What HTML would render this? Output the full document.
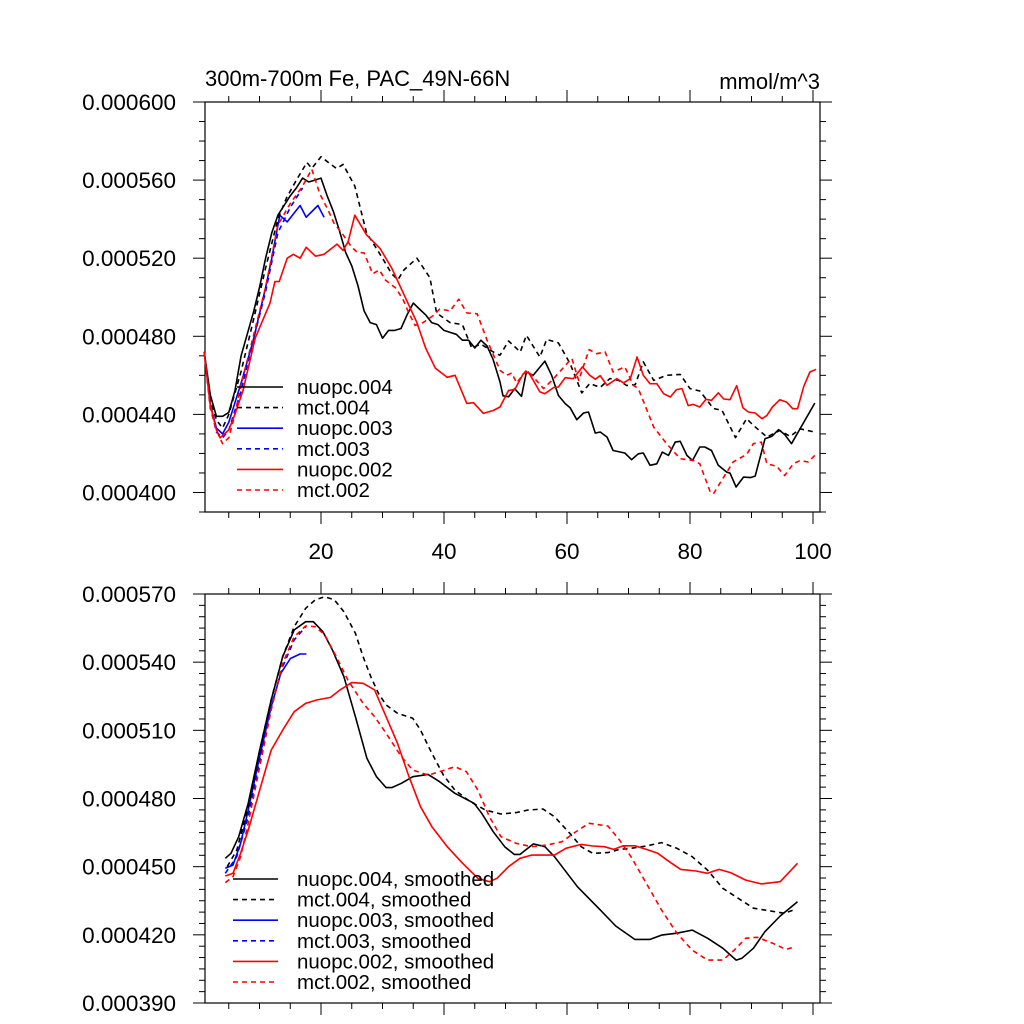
<!DOCTYPE html>
<html><head><meta charset="utf-8"><style>
html,body{margin:0;padding:0;background:#fff;}
svg{display:block;font-family:"Liberation Sans",sans-serif;}
</style></head><body>
<svg id="chart" width="1024" height="1024" viewBox="0 0 1024 1024" xmlns="http://www.w3.org/2000/svg">
<rect width="1024" height="1024" fill="#fff"/>
<text x="205" y="86" font-size="22">300m-700m Fe, PAC_49N-66N</text>
<text x="820" y="89" font-size="22" text-anchor="end">mmol/m^3</text>
<g id="top"></g><g id="bot"></g>
</svg>
<script>
// ---------- top panel data (raw) ----------
const topNames = ["nuopc.004","mct.004","nuopc.003","mct.003","nuopc.002","mct.002"];
const topYTicks = [0.0004,0.00044,0.00048,0.00052,0.00056,0.0006];
const topYLabels = ["0.000400","0.000440","0.000480","0.000520","0.000560","0.000600"];
const xTickVals = [20,40,60,80,100];
const xTickLabels = ["20","40","60","80","100"];

const t_nuopc004_x = [1,2,3,4,5,6,7,8,9,10,11,12,13,14,15,16,17,18,19,20,21,22,23,24,25,26,27,28,29,30,31,32,33,34,35,36,37,38,39,40,41,42,43,44,45,46,47,48,49.1,49.6,50.5,51.5,52.6,53.4,54.5,56.4,57.5,58.6,59.7,60.5,61.6,62.7,63.5,64.6,65.4,66.5,67.5,69.4,70.5,71.6,72.4,73.5,74.6,75.5,76.5,77.6,78.4,79.5,80.4,81.6,82.4,83.5,84.6,86,86.5,87.5,88.7,89.8,90.6,92.2,93.3,94.4,95.4,96.5,100.3];
const t_nuopc004_y = [472,450,439,439,441,452,470,481,492,505,520,533,542,547,552,556,561,559,560,561,552,544,534,523,516,506,493,487,486,479,483,483,484,491,497,494,491,487,486,483,482,481,478,478,474,478,475,468,456.6,449.5,449,453.2,449.2,461.7,460,467.3,460,449.7,445.5,443.4,437.3,440.7,441.2,430.4,431,428.4,421.5,420.2,416.8,419.8,420.2,413.9,414.7,420.7,419,425.8,426.2,419,416.4,423.3,423.3,421.5,413.9,410.4,409.9,402.8,407.9,407.6,408.4,427.5,428.7,432.2,429.7,425,445.8];

const t_mct004_x = [1,2,3,4,5,7,9,11,13,14.4,16,17.7,18.5,20,21.2,22.5,23.6,25.5,27.4,29,30,31.5,32.5,33.5,35.6,37.7,38.8,41,43,44.5,46,48.5,49.1,50.5,52.4,53.4,55.6,56.7,58.6,60.5,62.4,63.7,65.4,67,68.4,69.7,71.1,72.4,74.1,76.2,78.4,80,81.6,83.8,85.2,87.4,89.2,90.3,92.5,94.6,96.3,97.9,100.3];
const t_mct004_y = [472,448,437,433,440,462,488,515,540,551,560,569,566,572,569,566,568,557,533,525,520,512,509,514,520,510,492,487,486,474,476,471,470.3,477.6,472,480.5,469.4,478.4,476.6,466,451,455.8,453.8,458.4,457.4,454.8,455.3,466.9,457.4,460,460.5,453.2,452,443,442.1,428.1,437.8,434.4,428.4,431.8,428.7,432.6,430.9];

const t_nuopc003_x = [1,2,3,4,5,7,9,11,12,13.3,14.5,16.6,17.6,19.5,20.5];
const t_nuopc003_y = [472,445,433,430,436,456,478,505,520,542,538.6,547,541,547,541];

const t_mct003_x = [1,2,3,4,5,7,9,11,13,15,17];
const t_mct003_y = [472,444,431,428,432,452,478,503,533,546,556];

const t_nuopc002_x = [1,2,3,3.6,5,6,7.3,9.3,11.7,12.5,13.2,14.5,15.5,16.6,17.6,19.1,20.5,22.6,23.6,24.4,25.5,27.4,29.6,31.5,33.4,35.6,37,38.6,40.5,41.8,43.7,44.8,46.4,48,49.1,50.5,51.5,52.9,53.7,54.5,55.6,56.4,57.8,58.6,59.7,61,62.5,63.7,64.6,65.4,66.5,68.1,69.2,70.3,71.4,72.4,73.5,74.6,75.7,76.8,77.8,78.7,79.7,80.5,81.6,82.6,83.5,84.6,85.5,86.5,87.6,88.6,89.5,90.6,91.7,92.5,93.4,94.6,95.7,96.7,97.5,98.5,99.5,100.5];
const t_nuopc002_y = [472,445,432,428,432,440,452,479,497,508,508,520,522,520,525.6,521,522,527.2,524,528.4,542,532,525,515,502,487,474,463.6,459,460,445.6,446,440.5,442,443.8,452.3,452.7,460.9,461.7,457.5,451.5,450.6,453.7,454,458.8,458.3,464.3,460,458,459.8,454.9,458.3,456.1,458.3,469.4,460,455.7,455.7,450.6,448.9,452.7,453.2,444.5,445.1,443.8,447.7,447.2,451,447.9,447.5,454.7,443.4,441.2,440.7,437.8,439.5,443.8,447.5,446.3,442.9,442.9,454.4,461.7,463.1];

const t_mct002_x = [1,2,3,4,5,6,7,9,11,13,15,17,18.5,19.8,21.1,22.1,23.6,25,25.9,27,28.4,29.5,30.5,32.2,33.4,34.2,35.3,36.6,38.3,39.3,41,42.4,43.7,45.4,47,49.1,50.2,51,51.8,53.4,54.3,56.2,57.8,60,60.8,61.9,63.6,64.8,66.2,67.5,69.4,70.8,71.6,73,74.1,76.2,78.4,80.6,81.6,83.3,83.8,87,89.2,90.3,91.6,92.5,94.1,95.4,96.8,97.9,99.2,100.3];
const t_mct002_y = [472,443,432,425,428,440,455,480,505,537,548,557,565.6,553,545,538,532,525.6,523,522.7,512,514,508.7,504.6,498.5,492.5,485.6,487,490.7,494,493,499,492,491.5,478,462.6,460,461.2,456.1,462.6,460,453.2,458.3,466,468.6,457.4,473.2,471.1,472,461.7,464.3,454.9,453.2,442.1,433.5,425,417.3,416.4,414.7,400.2,399.3,415.6,419.5,425,425.8,414.7,413.4,408.7,414.7,416.4,415.6,419];

// ---------- bottom panel data (smoothed) ----------
const botNames = ["nuopc.004, smoothed","mct.004, smoothed","nuopc.003, smoothed","mct.003, smoothed","nuopc.002, smoothed","mct.002, smoothed"];
const botYTicks = [0.00039,0.00042,0.00045,0.00048,0.00051,0.00054,0.00057];
const botYLabels = ["0.000390","0.000420","0.000450","0.000480","0.000510","0.000540","0.000570"];

const b_nuopc004_x = [4.44,5.37,6.62,8.17,10.04,11.91,13.77,15.64,17.51,18.75,20.31,21.86,23.73,25.6,27.47,29.02,30.58,31.51,33.07,34.93,37.42,39.29,41.78,44.89,46.13,48,49.87,51.42,52.36,54.54,56.4,57.96,61.69,65.43,67.92,71.03,73.52,75.38,77.87,80.36,82.85,85.34,87.52,88.45,90.32,92.18,94.67,97.48];
const b_nuopc004_y = [453.7,455.9,463.2,477.9,501.3,523.4,542.4,554.2,557.8,557.8,553.4,545.4,533.6,516,497.7,489.6,484.8,484.8,486.7,489.6,490.6,487.4,482.3,477.9,473.5,465.4,458.8,455.4,455.4,460,458.8,454.4,441.2,430.9,423.9,418,418,419.9,420.7,422.1,418.5,414.1,408.9,409.7,414.1,421.4,428.3,434.6];

const b_mct004_x = [4.75,6.31,8.17,10.04,11.91,13.77,15.64,17.51,19.06,20.62,22.18,23.73,25.6,26.84,28.09,29.33,30.58,32.44,34.93,36.18,38.04,39.91,41.78,44.27,46.76,49.25,51.73,53.6,56.09,57.96,60.45,62.31,64.18,66.67,68.54,70.4,72.89,75.38,77.87,80.36,82.85,85.34,87.83,90.32,92.8,95.29,96.85];
const b_mct004_y = [450,457.3,476.4,501.3,523.4,542.4,555.6,563.7,567.4,568.8,567.4,562.2,552.7,542.4,533.6,526.3,521.2,517.5,515.3,510.1,499.9,490.3,483.7,478.6,474.9,473.2,473.8,474.9,475.4,472,464.7,458.8,455.9,456.2,457.6,458.1,459.1,460.6,458.1,454.4,448.5,440.5,436.1,431.7,430.6,429.5,430.9];

const b_nuopc003_x = [4.44,5.69,6.93,8.17,10.04,11.91,13.46,15.02,16.58,17.63];
const b_nuopc003_y = [449.3,450.7,460.3,474.9,498.4,520.4,535.1,541.6,543.6,543.6];

const b_mct003_x = [4.44,6.31,8.17,10.04,11.91,13.77,15.64,17.51];
const b_mct003_y = [447.1,454.4,472,496.9,520.4,538,549.8,555.6];

const b_nuopc002_x = [4.44,5.69,6.93,8.17,10.04,11.91,13.77,15.64,17.51,19.38,21.55,23.11,24.98,26.84,28.71,30.58,32.44,34.31,36.18,38.04,40.53,43.02,45.51,47.38,48.62,50.49,52.36,54.22,56.09,57.96,59.82,62.31,64.18,66.05,67.6,69.16,71.03,72.89,74.76,76.63,78.49,80.98,82.85,84.72,86.58,89.07,91.56,94.67,97.48];
const b_nuopc002_y = [445.9,447.1,455.9,466.1,483.7,501.3,510.1,518.2,521.9,523.4,524.5,527.8,531,530.7,527.8,516,504.3,489.6,476.4,467.6,458.8,451.5,444.9,443.4,444.9,450,453.7,455.1,455.1,455.1,458.1,459.8,459.1,458.8,457.6,459.2,459.2,457.6,455.9,452.2,448.8,448.1,447.1,448.8,447.4,444.1,442.4,443.4,451.5];

const b_mct002_x = [4.44,5.69,6.93,8.17,10.04,11.91,13.77,15.64,17.51,19.06,20.62,22.49,24.35,26.84,28.71,30.58,33.07,34.93,37.42,39.29,41.78,43.64,45.51,47.38,49.25,51.73,54.22,56.71,59.2,61.07,63.56,66.67,68.54,70.4,72.89,75.38,77.87,80.36,82.85,85.34,87.21,89.07,90.94,93.43,95.6,97.16];
const b_mct002_y = [443,445.6,454.4,469.1,494,519,539.5,551.2,555.9,555.6,552,542.4,532.2,521.9,516,508.7,498.4,492.5,490.3,491.8,494,491.8,483.7,472,463.2,460.3,458.8,459.5,461,464.7,469.1,467.9,461.7,454.4,442.7,430.9,420.7,413.3,408.9,408.9,413.3,418.5,418.9,416.3,413.6,414.8];

const NS = "http://www.w3.org/2000/svg";
function mk(tag, attrs, parent){const e=document.createElementNS(NS,tag);for(const k in attrs)e.setAttribute(k,attrs[k]);parent.appendChild(e);return e;}

const X0=205, X1=820;
function xScale(v){return 198 + v*6.15;}

function drawPanel(g, top, bottom, ymin, ymax, yTicks, yLabels, minorStep, showXLabels, series, names, legTop, legLineX0, legLineX1){
  const ys = v => bottom - (v - ymin)/(ymax - ymin)*(bottom-top);
  const box = mk("rect",{x:X0,y:top,width:X1-X0,height:bottom-top,fill:"none",stroke:"#000","stroke-width":1.2},g);
  
  
  for(let v=ymin; v<=ymax+1e-12; v+=minorStep){
    const y=ys(v);
    const isMajor = yTicks.some(t=>Math.abs(t-v)<minorStep/10);
    const L = isMajor?12:6;
    const t1=mk("line",{x1:X0-L,x2:X0,y1:y,y2:y,stroke:"#000","stroke-width":1},g);
    
    
    const t2=mk("line",{x1:X1,x2:X1+L,y1:y,y2:y,stroke:"#000","stroke-width":1},g);
    
    
  }
  yTicks.forEach((v,i)=>{
    const t=mk("text",{x:176,y:ys(v)+8,"font-size":22.5,"text-anchor":"end"},g);
    t.textContent=yLabels[i];
    
    
  });
  for(let v=5; v<=100; v+=5){
    const x=xScale(v);
    const isMajor = v%20===0;
    const L=isMajor?12:6;
    const a=mk("line",{x1:x,x2:x,y1:top-L,y2:top,stroke:"#000","stroke-width":1},g);
    
    
    const b=mk("line",{x1:x,x2:x,y1:bottom,y2:bottom+L,stroke:"#000","stroke-width":1},g);
    
    
  }
  if(showXLabels){
    xTickVals.forEach((v,i)=>{
      const t=mk("text",{x:xScale(v),y:bottom+47,"font-size":22.5,"text-anchor":"middle"},g);
      t.textContent=xTickLabels[i];
      
      
    });
  }
  const order=[3,2,1,0,5,4];
  order.forEach(i=>{
    const s=series[i];
    let d="";
    s.x.forEach((xv,j)=>{d+=(j?"L":"M")+xScale(xv).toFixed(1)+","+ys(s.y[j]*1e-6).toFixed(1);});
    const p=mk("path",{d:d,fill:"none",stroke:s.color,"stroke-width":1.6,"stroke-linejoin":"round"},g);
    if(s.dash) p.setAttribute("stroke-dasharray","5,4");
    
    
  });
  series.forEach((s,i)=>{
    const y=legTop+i*20.6;
    const l=mk("line",{x1:legLineX0,x2:legLineX1,y1:y,y2:y,stroke:s.color,"stroke-width":1.6},g);
    if(s.dash) l.setAttribute("stroke-dasharray","5,4");
    
    
    const t=mk("text",{x:297,y:y+7,"font-size":20.5},g);
    t.textContent=names[i];
    
    
  });
}

const topSeries=[
 {x:t_nuopc004_x,y:t_nuopc004_y,color:"#000",dash:false},
 {x:t_mct004_x,y:t_mct004_y,color:"#000",dash:true},
 {x:t_nuopc003_x,y:t_nuopc003_y,color:"#0000ff",dash:false},
 {x:t_mct003_x,y:t_mct003_y,color:"#0000ff",dash:true},
 {x:t_nuopc002_x,y:t_nuopc002_y,color:"#ff0000",dash:false},
 {x:t_mct002_x,y:t_mct002_y,color:"#ff0000",dash:true}];
const botSeries=[
 {x:b_nuopc004_x,y:b_nuopc004_y,color:"#000",dash:false},
 {x:b_mct004_x,y:b_mct004_y,color:"#000",dash:true},
 {x:b_nuopc003_x,y:b_nuopc003_y,color:"#0000ff",dash:false},
 {x:b_mct003_x,y:b_mct003_y,color:"#0000ff",dash:true},
 {x:b_nuopc002_x,y:b_nuopc002_y,color:"#ff0000",dash:false},
 {x:b_mct002_x,y:b_mct002_y,color:"#ff0000",dash:true}];

const gTop=document.getElementById("top");


const gBot=document.getElementById("bot");


drawPanel(gTop,102,512,0.00039,0.0006,topYTicks,topYLabels,0.00001,true,topSeries,topNames,387,237,283);
drawPanel(gBot,594,1003,0.00039,0.00057,botYTicks,botYLabels,0.000005,false,botSeries,botNames,879,233,278);
</script>
</body></html>
